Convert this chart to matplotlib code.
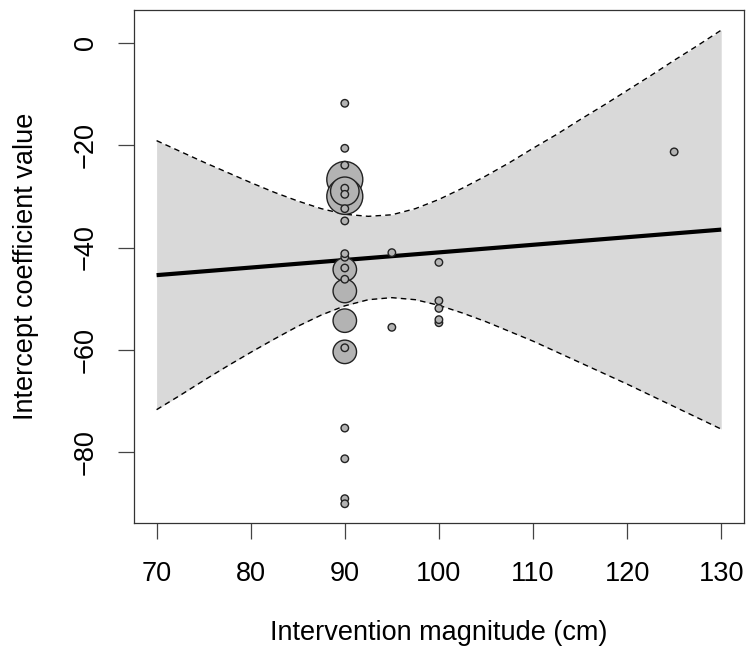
import numpy as np
import matplotlib
matplotlib.use('Agg')
import matplotlib.pyplot as plt

plt.rcParams['font.family'] = ['Liberation Sans', 'DejaVu Sans']

# estudos: magnitude da intervencao (cm), coeficiente do intercepto, tamanho relativo (peso)
estudo_x = [90, 90, 90,
            90, 90, 90, 90,
            90, 90, 90, 90, 90, 90, 90, 90, 90, 90, 90, 90, 90, 90, 90, 90,
            95, 95,
            100, 100, 100, 100, 100,
            125]
estudo_y = [-26.7, -30.0, -29.0,
            -44.3, -48.5, -54.3, -60.4,
            -11.8, -20.6, -23.9, -28.4, -29.6, -32.4, -34.8, -41.2, -41.9, -44.0,
            -46.2, -59.6, -75.3, -81.3, -89.1, -90.1,
            -41.0, -55.6,
            -42.9, -50.4, -51.9, -54.1, -54.7,
            -21.3]
estudo_peso = [4.8, 4.8, 3.8,
               3.13, 3.13, 3.13, 3.13,
               1, 1, 1, 1, 1, 1, 1, 1, 1, 1, 1, 1, 1, 1, 1, 1,
               1, 1,
               1, 1, 1, 1, 1,
               1]

# reta de meta-regressao
reta_x = [70, 130]
reta_y = [-45.4, -36.5]

# intervalo de confianca
ic_x = [70, 72.5, 75, 77.5, 80, 82.5, 85, 87.5, 90, 92.5, 95, 97.5, 100,
        102.5, 105, 107.5, 110, 112.5, 115, 117.5, 120, 122.5, 125, 127.5, 130]
ic_sup = [-19.1, -21.2, -23.3, -25.3, -27.3, -29.2, -30.9, -32.4, -33.5, -33.9, -33.6, -32.4, -30.6,
          -28.4, -26.0, -23.4, -20.6, -17.9, -15.0, -12.2, -9.3, -6.4, -3.4, -0.5, 2.5]
ic_inf = [-71.7, -68.9, -66.0, -63.2, -60.5, -57.9, -55.4, -53.2, -51.4, -50.2, -49.8, -50.2, -51.3,
          -52.8, -54.5, -56.4, -58.3, -60.4, -62.5, -64.6, -66.7, -68.9, -71.1, -73.3, -75.5]

fig = plt.figure(figsize=(7.47, 6.52), dpi=100)
ax = fig.add_axes([134/747, 1 - 522.7/652, 609.8/747, 512.5/652])

ax.fill_between(ic_x, ic_inf, ic_sup, color='#d9d9d9', lw=0, zorder=1)
ax.plot(ic_x, ic_sup, color='black', lw=1.0, ls=(0, (4, 3)), zorder=2)
ax.plot(ic_x, ic_inf, color='black', lw=1.0, ls=(0, (4, 3)), zorder=2)
ax.plot(reta_x, reta_y, color='black', lw=3, solid_capstyle='butt', zorder=3)

ordem = np.argsort(estudo_peso)[::-1]
xs = np.array(estudo_x)[ordem]
ys = np.array(estudo_y)[ordem]
tam = (5.4 * np.array(estudo_peso)[ordem]) ** 2
ax.scatter(xs, ys, s=tam, c='#b3b3b3', edgecolors='#222222', linewidths=1.0, zorder=4)

ax.set_xlim(67.6, 132.4)
ax.set_ylim(-93.8, 6.4)
ax.set_xticks([70, 80, 90, 100, 110, 120, 130])
ax.set_yticks([0, -20, -40, -60, -80])
ax.set_yticklabels(['0', '\u221220', '\u221240', '\u221260', '\u221280'], rotation=90, va='center')

for s in ax.spines.values():
    s.set_color('#333333')
    s.set_linewidth(0.9)
ax.tick_params(axis='both', length=11.5, width=0.9, color='#444444', labelsize=19.5)
ax.tick_params(axis='x', pad=16)
ax.tick_params(axis='y', pad=14)

ax.set_xlabel('Intervention magnitude (cm)', fontsize=19.5, va='center')
ax.set_ylabel('Intercept coefficient value', fontsize=19.5, va='center')
ax.xaxis.set_label_coords(0.5, (522.7 - 633) / 512.5)
ax.yaxis.set_label_coords((26 - 134) / 609.8, 0.5)

fig.savefig('out.png', dpi=100)
